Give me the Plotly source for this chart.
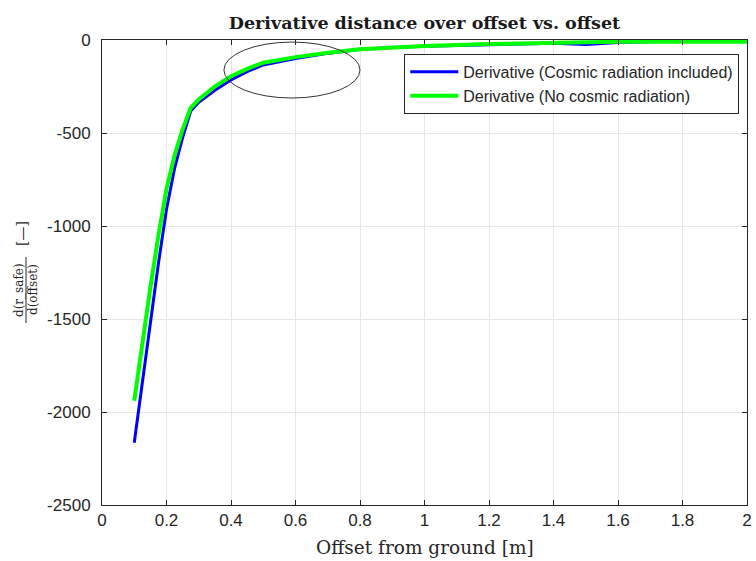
import plotly.graph_objects as go

# Offset from ground [m]
offset = [0.10, 0.125, 0.15, 0.175, 0.20, 0.225, 0.25, 0.275, 0.30, 0.35, 0.40, 0.45,
          0.50, 0.60, 0.70, 0.80, 0.90, 1.00, 1.20, 1.40, 1.50, 1.60, 1.80, 2.00]

# d(r_safe)/d(offset), cosmic radiation included
deriv_cosmic = [-2165, -1840, -1520, -1200, -910, -690, -525, -382, -335, -270, -215, -170,
                -134, -100, -72, -50, -40, -33, -25, -18, -24, -14, -5, -2]

# d(r_safe)/d(offset), no cosmic radiation
deriv_no_cosmic = [-1940, -1620, -1330, -1050, -800, -620, -480, -365, -320, -250, -195, -155,
                   -122, -92, -68, -50, -40, -32, -22, -12, -12, -10, -8, -10]

series_names = ["Derivative (Cosmic radiation included)", "Derivative (No cosmic radiation)"]

x_ticks = [0, 0.2, 0.4, 0.6, 0.8, 1, 1.2, 1.4, 1.6, 1.8, 2]
x_tick_text = ["0", "0.2", "0.4", "0.6", "0.8", "1", "1.2", "1.4", "1.6", "1.8", "2"]
y_ticks = [0, -500, -1000, -1500, -2000, -2500]
y_tick_text = ["0", "-500", "-1000", "-1500", "-2000", "-2500"]

# highlighted region (ellipse) in data units
ellipse_x = [0.378, 0.80]
ellipse_y = [-312, -11]

axis_col = "#262626"
sans = "Liberation Sans, Arial, sans-serif"
serif = "DejaVu Serif, Liberation Serif, serif"
tick_font = dict(family=sans, size=17, color=axis_col)

fig = go.Figure()
fig.add_trace(go.Scatter(x=offset, y=deriv_cosmic, mode="lines", name=series_names[0],
                         line=dict(color="#0000ff", width=3)))
fig.add_trace(go.Scatter(x=offset, y=deriv_no_cosmic, mode="lines", name=series_names[1],
                         line=dict(color="#00ff00", width=4)))

fig.add_shape(type="circle", xref="x", yref="y",
              x0=ellipse_x[0], x1=ellipse_x[1], y0=ellipse_y[0], y1=ellipse_y[1],
              line=dict(color="#333333", width=1))

axis_common = dict(showline=True, linecolor=axis_col, linewidth=1, mirror="ticks",
                   ticks="inside", ticklen=5, tickcolor=axis_col, tickfont=tick_font,
                   ticklabeloverflow="allow",
                   showgrid=True, gridcolor="#e6e6e6", gridwidth=1, zeroline=False)

fig.update_xaxes(range=[0, 2], tickvals=x_ticks, ticktext=x_tick_text, **axis_common)
fig.update_yaxes(range=[-2500, 0], tickvals=y_ticks, ticktext=y_tick_text,
                 ticklabelstandoff=7, **axis_common)

fig.update_layout(
    width=756, height=561,
    margin=dict(l=102, r=4, t=40, b=56),
    paper_bgcolor="white", plot_bgcolor="white",
    title=dict(text="<b>Derivative distance over offset vs. offset</b>",
               x=0.5, xref="paper", xanchor="center", y=1, yref="paper",
               yanchor="bottom", pad=dict(b=11),
               font=dict(family=serif, size=17.5, color="#1a1a1a")),
    legend=dict(x=0.988, xref="paper", xanchor="right",
                y=0.97, yref="paper", yanchor="top",
                bgcolor="white", bordercolor=axis_col, borderwidth=1,
                font=dict(family=sans, size=16, color=axis_col),
                tracegroupgap=0, itemwidth=48),
    showlegend=True,
)

# x-axis title
fig.add_annotation(text="Offset from ground [m]", xref="paper", yref="paper",
                   x=0.5, y=0, xanchor="center", yanchor="middle", yshift=-42,
                   showarrow=False, font=dict(family=serif, size=18.5, color=axis_col))

# y-axis title: rotated fraction d(r_safe)/d(offset) followed by [-]
frac_center_px = 290
plot_top, plot_h = 40, 465
frac_y = 1 - (frac_center_px - plot_top) / plot_h
fig.add_annotation(text="d(r_safe)", xref="paper", yref="paper", x=0, y=frac_y,
                   xanchor="center", yanchor="middle", xshift=-83, textangle=-90,
                   showarrow=False, font=dict(family=serif, size=12, color=axis_col))
fig.add_annotation(text="d(offset)", xref="paper", yref="paper", x=0, y=frac_y,
                   xanchor="center", yanchor="middle", xshift=-69, textangle=-90,
                   showarrow=False, font=dict(family=serif, size=12, color=axis_col))
fig.add_shape(type="line", xref="paper", yref="paper", x0=-76, x1=-76,
              y0=frac_y - 33 / plot_h, y1=frac_y + 33 / plot_h,
              xsizemode="pixel", xanchor=0, line=dict(color=axis_col, width=1))
fig.add_annotation(text="[\u2014]", xref="paper", yref="paper", x=0,
                   y=1 - (234 - plot_top) / plot_h,
                   xanchor="center", yanchor="middle", xshift=-80, textangle=-90,
                   showarrow=False, font=dict(family=serif, size=14, color=axis_col))

fig.write_html("out.html")
